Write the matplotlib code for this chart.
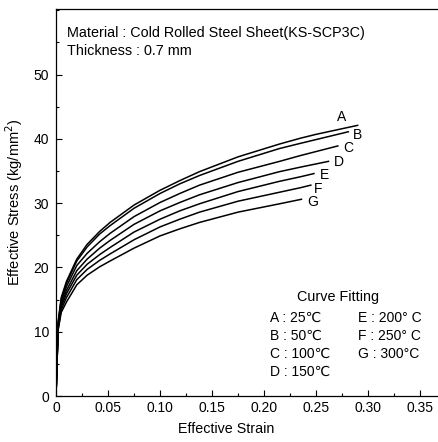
import numpy as np
import matplotlib
matplotlib.use("Agg")
import matplotlib.pyplot as plt
from matplotlib.ticker import MultipleLocator

plt.rcParams['font.family'] = ['Liberation Sans', 'DejaVu Sans']

# curves: effective strain vs effective stress (kg/mm2)
strain_A = [0, 0.002, 0.005, 0.01, 0.02, 0.03, 0.042, 0.052, 0.075, 0.1, 0.119, 0.138, 0.175, 0.215, 0.235, 0.25, 0.29]
stress_A = [0, 11.5, 15.3, 17.8, 21.3, 23.6, 25.6, 27.0, 29.7, 32.0, 33.5, 34.9, 37.2, 39.2, 40.1, 40.7, 42.1]

strain_B = [0, 0.002, 0.005, 0.01, 0.02, 0.03, 0.042, 0.052, 0.075, 0.1, 0.119, 0.138, 0.175, 0.215, 0.235, 0.281]
stress_B = [0, 11.3, 15.0, 17.5, 21.0, 23.2, 25.2, 26.5, 29.2, 31.5, 33.0, 34.3, 36.5, 38.5, 39.3, 41.1]

strain_C = [0, 0.002, 0.005, 0.01, 0.02, 0.03, 0.042, 0.052, 0.075, 0.1, 0.119, 0.138, 0.175, 0.215, 0.235, 0.271]
stress_C = [0, 11.0, 14.6, 17.0, 20.3, 22.2, 24.0, 25.3, 27.9, 30.1, 31.5, 32.8, 34.8, 36.5, 37.4, 38.9]

strain_D = [0, 0.002, 0.005, 0.01, 0.02, 0.03, 0.042, 0.052, 0.075, 0.1, 0.119, 0.138, 0.175, 0.215, 0.235, 0.262]
stress_D = [0, 10.8, 14.2, 16.4, 19.5, 21.3, 23.0, 24.2, 26.7, 28.8, 30.1, 31.3, 33.2, 34.9, 35.6, 36.5]

strain_E = [0, 0.002, 0.005, 0.01, 0.02, 0.03, 0.042, 0.052, 0.075, 0.1, 0.119, 0.138, 0.175, 0.215, 0.235, 0.248]
stress_E = [0, 10.6, 13.8, 15.9, 18.8, 20.5, 22.0, 23.1, 25.5, 27.5, 28.8, 29.9, 31.8, 33.4, 34.1, 34.6]

strain_F = [0, 0.002, 0.005, 0.01, 0.02, 0.03, 0.042, 0.052, 0.075, 0.1, 0.119, 0.138, 0.175, 0.215, 0.235, 0.245]
stress_F = [0, 10.4, 13.4, 15.3, 18.1, 19.7, 21.1, 22.1, 24.3, 26.3, 27.5, 28.6, 30.3, 31.7, 32.4, 32.8]

strain_G = [0, 0.002, 0.005, 0.01, 0.02, 0.03, 0.042, 0.052, 0.075, 0.1, 0.119, 0.138, 0.175, 0.215, 0.236]
stress_G = [0, 10.2, 13.0, 14.6, 17.3, 18.8, 20.1, 21.0, 23.0, 24.9, 26.0, 27.0, 28.6, 29.9, 30.6]

curve_names = ['A', 'B', 'C', 'D', 'E', 'F', 'G']
temps = ['25℃', '50℃', '100℃', '150℃', '200° C', '250° C', '300°C']

strains = [strain_A, strain_B, strain_C, strain_D, strain_E, strain_F, strain_G]
stresses = [stress_A, stress_B, stress_C, stress_D, stress_E, stress_F, stress_G]

# label offsets from each curve end, in pixels
label_offsets = [(-21, 8), (5, -3), (5, -2), (5, -1), (6, -1), (3, -4), (6, -3)]

W, H = 439, 442
fig = plt.figure(figsize=(W / 100, H / 100), dpi=100)
ax = fig.add_axes([56 / W, 1 - 396 / H, (W - 56) / W, (396 - 9) / H])

for name, x, y, off in zip(curve_names, strains, stresses, label_offsets):
    ax.plot(x, y, color='black', linewidth=1.1)
    ax.annotate(name, xy=(x[-1], y[-1]), xytext=off, textcoords='offset pixels',
                fontsize=10, ha='left', va='center')

ax.set_xlim(0, (W - 56) / 1040)
ax.set_ylim(0, 60.2)
ax.xaxis.set_minor_locator(MultipleLocator(0.025))
ax.yaxis.set_minor_locator(MultipleLocator(5))
ax.set_xticks([0, 0.05, 0.10, 0.15, 0.20, 0.25, 0.30, 0.35])
ax.set_xticklabels(['0', '0.05', '0.10', '0.15', '0.20', '0.25', '0.30', '0.35'])
ax.set_yticks([0, 10, 20, 30, 40, 50])
ax.tick_params(which='both', direction='in', labelsize=10, width=0.8)
ax.tick_params(which='major', length=4)
ax.tick_params(which='minor', length=2.5)
ax.tick_params(axis='y', pad=5)
ax.spines['right'].set_visible(False)
for s in ['left', 'bottom', 'top']:
    ax.spines[s].set_linewidth(0.9)

ax.set_xlabel('Effective Strain', fontsize=10.3)
ax.xaxis.set_label_coords((226 - 56) / (W - 56), -0.066)
ax.set_ylabel('Effective Stress (kg/mm$^2$)', fontsize=10.5)
ax.yaxis.set_label_coords(-0.082, 0.5)

fig.text(67 / W, 1 - 33 / H, 'Material : Cold Rolled Steel Sheet(KS-SCP3C)', fontsize=10.4, va='center')
fig.text(67 / W, 1 - 51 / H, 'Thickness : 0.7 mm', fontsize=10.4, va='center')

# curve fitting key
fig.text(338 / W, 1 - 297 / H, 'Curve Fitting', fontsize=10.4, ha='center', va='center')
for i, (name, t) in enumerate(zip(curve_names, temps)):
    col = 0 if i < 4 else 1
    row = i if i < 4 else i - 4
    fx = (270 if col == 0 else 358) / W
    fy = 1 - (318 + 18 * row) / H
    fig.text(fx, fy, f'{name} : {t}', fontsize=10, va='center')

fig.savefig('out.png', dpi=100)
